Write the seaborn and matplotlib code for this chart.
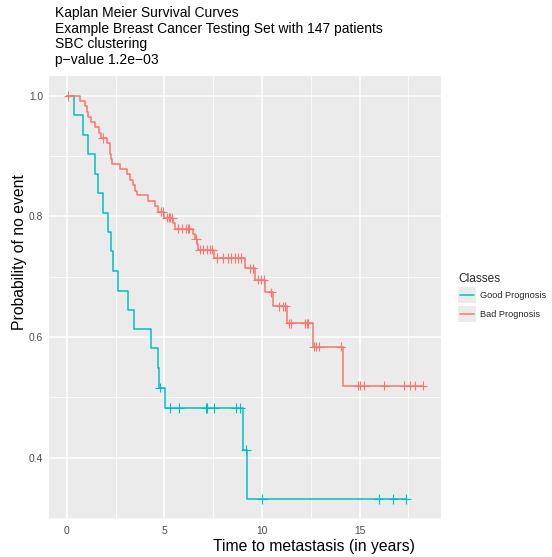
import numpy as np
import pandas as pd
import matplotlib
matplotlib.use("Agg")
import matplotlib.pyplot as plt
import seaborn as sns
from matplotlib.lines import Line2D
from matplotlib.patches import Rectangle
from matplotlib.legend_handler import HandlerBase
from matplotlib.ticker import FormatStrFormatter, FixedLocator

# ---------------- data ----------------
classes = ["Good Prognosis", "Bad Prognosis"]
class_colors = ["#00BFC4", "#F8766D"]

# Kaplan-Meier step function: time of each drop and survival after it
good_times = [0.0, 0.37, 0.84, 1.09, 1.44, 1.61, 1.86, 2.12, 2.25, 2.38, 2.60,
              3.15, 3.42, 4.29, 4.68, 4.72, 5.03, 9.04, 9.25]
good_surv = [1.0, 0.968, 0.935, 0.903, 0.871, 0.839, 0.806, 0.774, 0.742, 0.710,
             0.677, 0.645, 0.613, 0.581, 0.548, 0.516, 0.482, 0.413, 0.331]
good_censor = [4.75, 5.28, 5.76, 7.11, 7.16, 7.54, 8.65, 8.87, 9.18, 10.0,
               15.98, 16.74, 17.38]

bad_times = [0.0, 0.67, 0.92, 1.01, 1.09, 1.23, 1.44, 1.66, 1.72, 2.03, 2.18,
             2.22, 2.26, 2.32, 2.72, 3.06, 3.23, 3.37, 3.49, 3.61, 4.17, 4.51,
             4.68, 5.00, 5.45, 5.54, 6.48, 6.58, 6.66, 6.74, 7.55, 9.13, 9.66,
             10.15, 10.55, 11.30, 12.60, 14.14]
bad_surv = [1.0, 0.991, 0.983, 0.974, 0.965, 0.957, 0.948, 0.939, 0.930, 0.922,
            0.913, 0.904, 0.896, 0.887, 0.878, 0.870, 0.861, 0.852, 0.843, 0.835,
            0.826, 0.817, 0.808, 0.798, 0.789, 0.780, 0.771, 0.763, 0.754, 0.745,
            0.731, 0.714, 0.695, 0.674, 0.651, 0.623, 0.584, 0.519]
bad_censor = [0.07, 1.83, 4.80, 4.90, 5.11, 5.22, 5.30, 5.38, 5.68, 5.90, 6.12,
              6.20, 6.28, 6.62, 6.80, 6.99, 7.16, 7.33, 7.45, 7.68, 8.02, 8.25,
              8.42, 8.60, 8.78, 8.91, 9.38, 9.52, 9.80, 9.97, 10.08, 10.48, 10.89,
              11.10, 11.20, 11.40, 11.50, 12.20, 12.29, 12.37, 12.67, 12.75, 12.92,
              14.03, 14.94, 15.03, 15.25, 16.27, 17.30, 17.59, 17.85, 18.24]

title_lines = ["Kaplan Meier Survival Curves",
               "Example Breast Cancer Testing Set with 147 patients",
               "SBC clustering",
               "p\u2212value 1.2e\u221203"]
x_label = "Time to metastasis (in years)"
y_label = "Probability of no event"
legend_title = "Classes"
x_ticks = [0, 5, 10, 15]
y_ticks = [0.4, 0.6, 0.8, 1.0]

# ---------------- build tables ----------------
def curve_frame(times, surv, censor, label):
    t = list(times)
    s = list(surv)
    end = max(max(censor), t[-1])
    t.append(end)
    s.append(s[-1])
    return pd.DataFrame({"time": t, "surv": s, "Classes": label})

def censor_frame(times, surv, censor, label):
    idx = np.searchsorted(np.asarray(times), np.asarray(censor), side="right") - 1
    return pd.DataFrame({"time": censor, "surv": np.asarray(surv)[idx], "Classes": label})

curves = pd.concat([curve_frame(good_times, good_surv, good_censor, classes[0]),
                    curve_frame(bad_times, bad_surv, bad_censor, classes[1])],
                   ignore_index=True)
marks = pd.concat([censor_frame(good_times, good_surv, good_censor, classes[0]),
                   censor_frame(bad_times, bad_surv, bad_censor, classes[1])],
                  ignore_index=True)
palette = dict(zip(classes, class_colors))

# ---------------- style ----------------
sns.set_theme(style="darkgrid", rc={
    "axes.facecolor": "#EBEBEB",
    "grid.color": "white",
    "axes.edgecolor": "none",
    "xtick.color": "#333333",
    "ytick.color": "#333333",
    "figure.facecolor": "white",
})
plt.rcParams["font.family"] = ["Liberation Sans", "DejaVu Sans"]

W, H = 552, 557
fig = plt.figure(figsize=(W / 100, H / 100), dpi=100)
ax = fig.add_axes([49.2 / W, 1 - 519.3 / H, (440.5 - 49.2) / W, (519.3 - 75.8) / H])

sns.lineplot(data=curves, x="time", y="surv", hue="Classes", hue_order=classes,
             palette=palette, estimator=None, sort=False, drawstyle="steps-post",
             linewidth=1.1, legend=False, ax=ax)
sns.scatterplot(data=marks, x="time", y="surv", hue="Classes", hue_order=classes,
                palette=palette, marker="+", s=45, linewidth=0.8, legend=False,
                ax=ax, zorder=3)

# ggplot-like expanded limits
tmin, tmax = 0.0, curves["time"].max()
smin, smax = curves["surv"].min(), curves["surv"].max()
xp = 0.05 * (tmax - tmin)
yp = 0.05 * (smax - smin)
ax.set_xlim(tmin - xp, tmax + xp)
ax.set_ylim(smin - yp, smax + yp)

ax.xaxis.set_major_locator(FixedLocator(x_ticks))
ax.yaxis.set_major_locator(FixedLocator(y_ticks))
ax.xaxis.set_minor_locator(FixedLocator([2.5, 7.5, 12.5, 17.5]))
ax.yaxis.set_minor_locator(FixedLocator([0.3, 0.5, 0.7, 0.9]))
ax.yaxis.set_major_formatter(FormatStrFormatter("%.1f"))
ax.grid(which="major", color="white", linewidth=1.1)
ax.grid(which="minor", color="white", linewidth=0.55)
ax.tick_params(which="major", length=2.5, width=0.6, color="#333333",
               labelsize=7.4, labelcolor="#4D4D4D", pad=2)
ax.tick_params(which="minor", length=0)
for sp in ax.spines.values():
    sp.set_visible(False)
ax.set_xlabel("")
ax.set_ylabel("")

fig.text(314 / W, 1 - 547 / H, x_label, ha="center", va="center", fontsize=11.3, color="black")
fig.text(20 / W, 1 - 252 / H, y_label, ha="center", va="center", rotation=90,
         fontsize=11.3, color="black")

fig.text(55 / W, 1 - 6 / H, "\n".join(title_lines), ha="left", va="top",
         fontsize=10, linespacing=1.15, color="black")

# ---------------- legend with grey key boxes ----------------
class KeyHandler(HandlerBase):
    def create_artists(self, legend, orig_handle, xdescent, ydescent, width,
                       height, fontsize, trans):
        rect = Rectangle((-xdescent, -ydescent), width, height,
                         facecolor="#EBEBEB", edgecolor="none", transform=trans)
        yc = -ydescent + height / 2
        line = Line2D([-xdescent + 0.1 * width, -xdescent + 0.9 * width], [yc, yc],
                      color=orig_handle.get_color(), lw=orig_handle.get_linewidth(),
                      transform=trans)
        return [rect, line]

handles = [Line2D([], [], color=c, lw=1.1) for c in class_colors]
leg = fig.legend(handles, classes, loc="upper left",
                 bbox_to_anchor=(458 / W, 1 - 272.5 / H), frameon=False,
                 fontsize=6.6, title=legend_title, title_fontsize=8.6,
                 handlelength=1.95, handleheight=2.35, labelspacing=0.3,
                 handletextpad=0.45, borderpad=0, borderaxespad=0,
                 alignment="left",
                 handler_map={Line2D: KeyHandler()})

fig.savefig("out.png", dpi=100)
